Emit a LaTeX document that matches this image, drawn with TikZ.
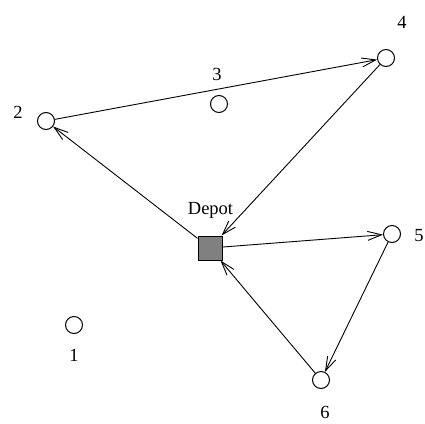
\documentclass[tikz,border=0pt]{standalone}
\usepackage{fontspec}
\setmainfont{Liberation Serif}
\usetikzlibrary{arrows.meta}
\begin{document}
\begin{tikzpicture}[x=1pt,y=-1pt,
  cust/.style={circle,draw,line width=1pt,minimum size=17pt,inner sep=0pt},
  depot/.style={rectangle,draw,line width=1pt,fill={rgb,255:red,128;green,128;blue,128},minimum size=24pt,inner sep=0pt},
  lbl/.style={font=\fontsize{18.5}{20}\selectfont,inner sep=0pt},
  route/.style={line width=0.9pt,-{Straight Barb[length=14pt,width=9pt,line width=0.9pt]}}]
\useasboundingbox (0,0) rectangle (425,423);
\node[cust] (n1) at (74,325) {};
\node[cust] (n2) at (46,121) {};
\node[cust] (n3) at (219,104) {};
\node[cust] (n4) at (386,58) {};
\node[cust] (n5) at (392,234) {};
\node[cust] (n6) at (321,380) {};
\node[depot] (d) at (210,248) {};
\node[lbl] (l1) at (74,355) {1};
\node[lbl] (l2) at (18,112) {2};
\node[lbl] (l3) at (217,74) {3};
\node[lbl] (l4) at (402,22) {4};
\node[lbl] (l5) at (419,236) {5};
\node[lbl] (l6) at (325,412) {6};
\node[lbl] (ld) at (210.5,210) {Depot};
\draw[route] (d) -- (n2);
\draw[route] (n2) -- (n4);
\draw[route] (n4) -- (d);
\draw[route] (d) -- (n5);
\draw[route] (n5) -- (n6);
\draw[route] (n6) -- (d);
\end{tikzpicture}
\end{document}
